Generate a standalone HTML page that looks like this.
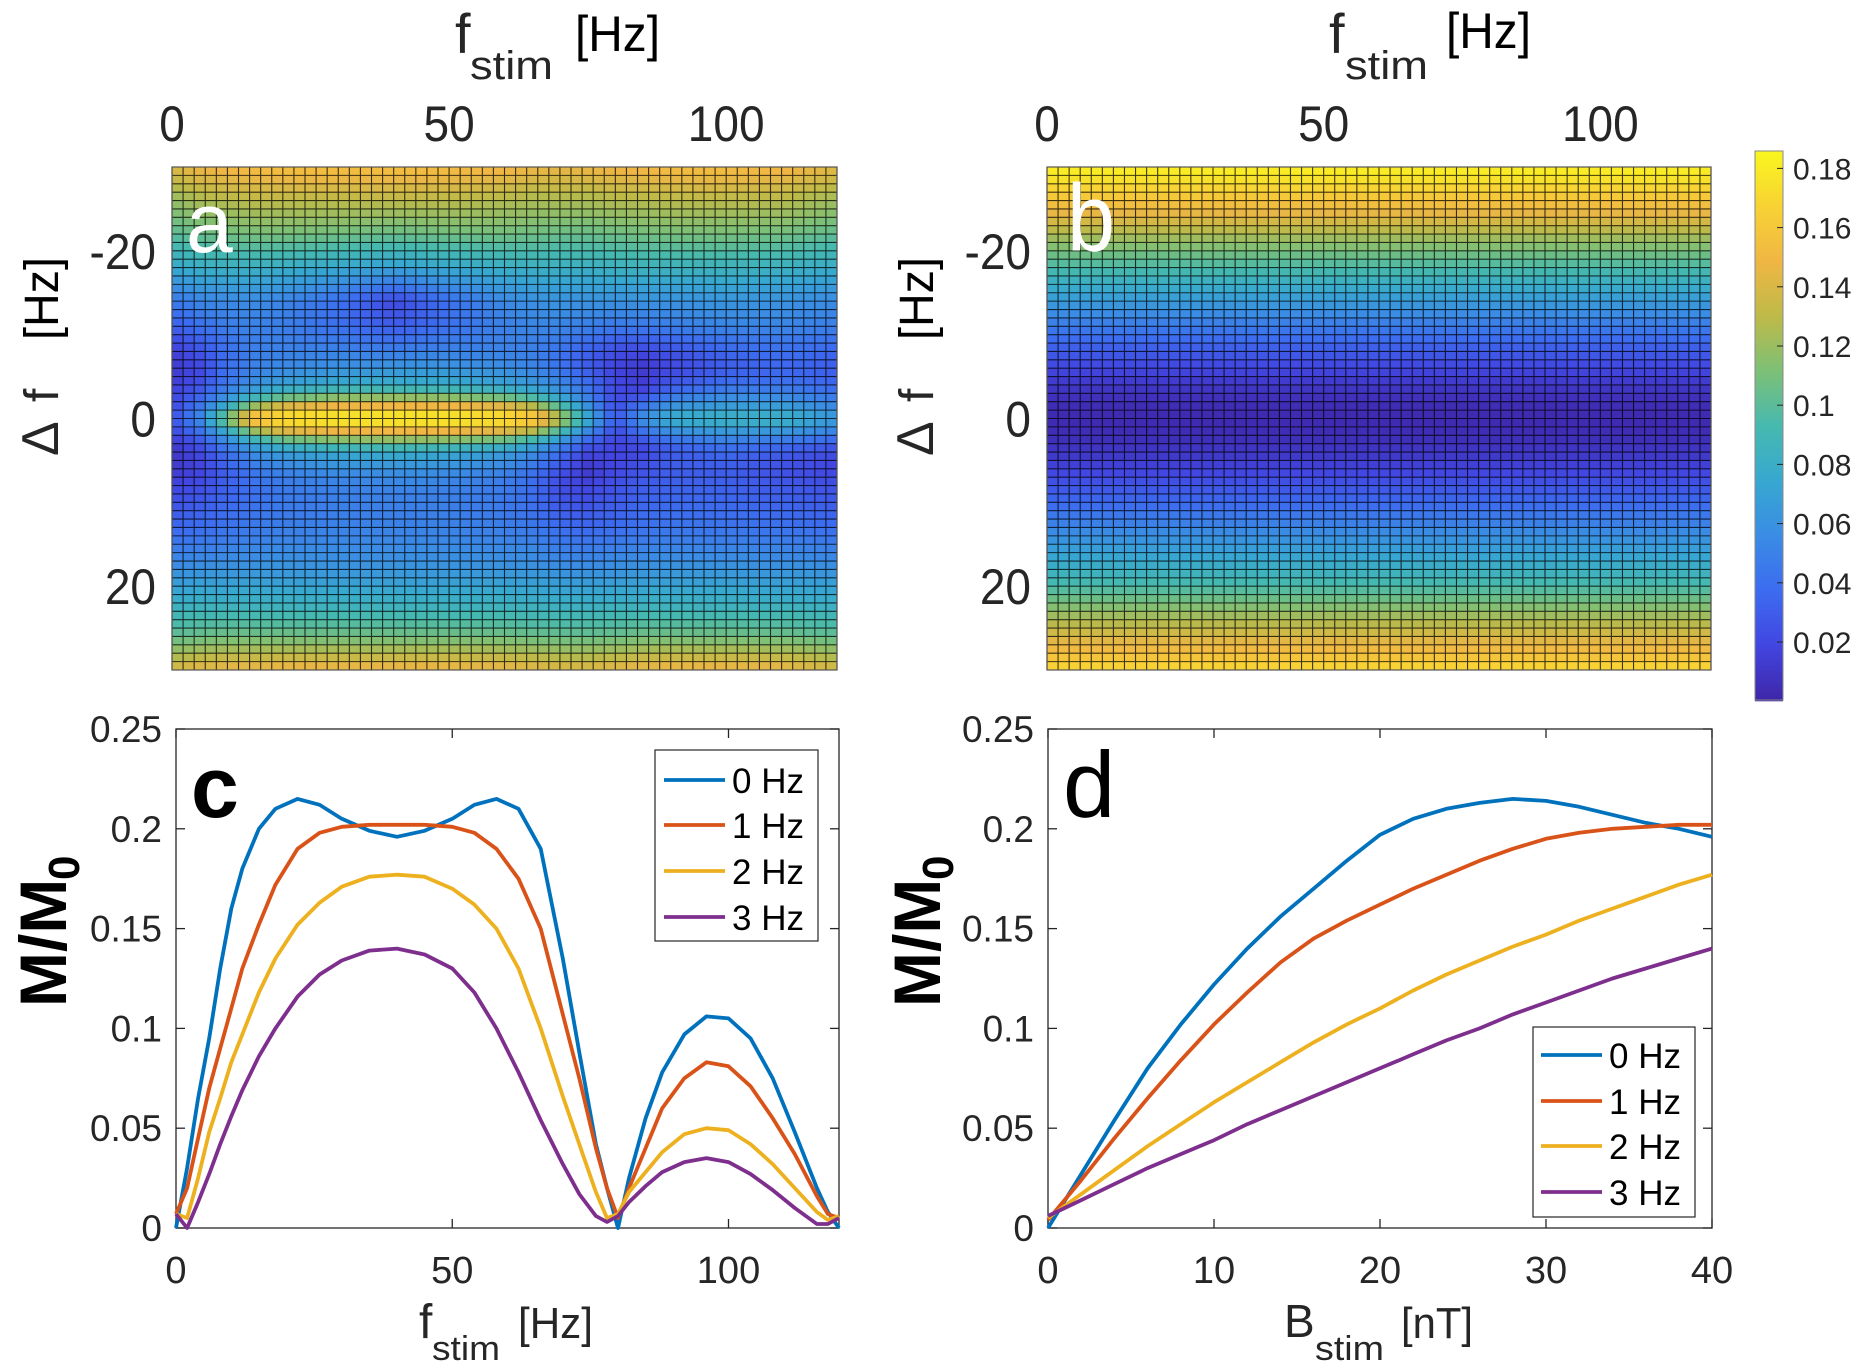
<!DOCTYPE html>
<html><head><meta charset="utf-8"><style>
html,body{margin:0;padding:0;background:#fff;}
svg{display:block;font-family:"Liberation Sans",sans-serif;}
</style></head><body>
<svg id="fig" width="1868" height="1368" viewBox="0 0 1868 1368" xmlns="http://www.w3.org/2000/svg">
<g id="layerA"></g>
<g id="layerB"></g>
<g id="layerCB"></g>
<g id="layerC"></g>
<g id="layerD"></g>
<g id="layerT"></g>
</svg>
<script>
// ---------- DATA ----------
const fA = [0,5,10,15,20,30,40,50,60,65,70,75,80,85,90,100,110,120];
const dA = [-30,-26,-22,-18,-14,-11,-8,-6,-4,-3,-2,-1,0,1,2,3,4,6,8,11,14,18,22,26,30];
const zA = [
[.140,.148,.152,.155,.156,.156,.156,.155,.152,.148,.146,.148,.150,.152,.155,.155,.152,.143],
[.118,.125,.128,.130,.130,.130,.130,.129,.127,.125,.125,.125,.127,.128,.129,.129,.128,.122],
[.100,.105,.108,.110,.110,.108,.105,.108,.108,.107,.105,.105,.107,.108,.110,.110,.108,.102],
[.075,.080,.082,.082,.080,.075,.070,.075,.080,.082,.082,.082,.083,.085,.085,.085,.083,.078],
[.045,.052,.055,.055,.052,.040,.020,.040,.055,.058,.060,.060,.060,.060,.060,.062,.060,.055],
[.030,.040,.048,.050,.048,.040,.030,.040,.050,.052,.052,.048,.045,.045,.048,.052,.052,.048],
[.015,.025,.040,.048,.050,.050,.048,.050,.050,.048,.042,.032,.022,.020,.025,.035,.040,.035],
[.012,.020,.040,.050,.055,.060,.062,.062,.058,.052,.042,.030,.018,.012,.020,.030,.035,.030],
[.015,.025,.045,.060,.070,.078,.080,.078,.072,.065,.055,.040,.020,.015,.028,.040,.042,.035],
[.018,.030,.055,.075,.090,.100,.102,.100,.092,.082,.065,.045,.020,.022,.040,.052,.052,.042],
[.020,.038,.070,.100,.122,.132,.135,.133,.125,.110,.085,.055,.022,.035,.055,.062,.062,.050],
[.022,.048,.090,.140,.160,.165,.165,.165,.160,.148,.110,.065,.025,.048,.068,.072,.072,.058],
[.025,.055,.120,.170,.180,.183,.183,.183,.180,.170,.130,.080,.030,.060,.080,.085,.085,.065],
[.022,.048,.090,.140,.160,.165,.165,.165,.160,.148,.110,.065,.025,.048,.068,.072,.072,.058],
[.018,.035,.068,.100,.122,.132,.135,.133,.125,.108,.080,.045,.020,.035,.050,.058,.055,.045],
[.012,.025,.052,.075,.090,.100,.102,.100,.090,.078,.055,.030,.018,.022,.035,.045,.040,.030],
[.010,.020,.040,.058,.068,.076,.080,.076,.068,.058,.040,.020,.018,.020,.030,.036,.030,.022],
[.012,.018,.032,.045,.052,.058,.060,.058,.052,.042,.025,.012,.020,.025,.030,.030,.024,.018],
[.018,.022,.032,.040,.045,.050,.052,.050,.046,.038,.022,.018,.025,.030,.032,.032,.028,.024],
[.028,.032,.038,.042,.045,.048,.048,.048,.045,.040,.030,.028,.032,.036,.038,.038,.035,.032],
[.040,.042,.045,.048,.050,.052,.052,.052,.050,.048,.042,.040,.042,.045,.046,.046,.045,.042],
[.058,.060,.061,.062,.062,.062,.062,.062,.062,.061,.058,.058,.060,.061,.062,.062,.061,.060],
[.080,.082,.082,.082,.082,.082,.082,.082,.082,.081,.080,.080,.081,.082,.082,.082,.081,.080],
[.103,.106,.108,.108,.108,.108,.108,.108,.108,.106,.105,.105,.106,.108,.108,.108,.107,.103],
[.140,.145,.148,.148,.150,.150,.150,.150,.148,.145,.142,.142,.145,.148,.150,.150,.148,.140]
];
const dB = [-30,-28,-26,-24,-22,-20,-18,-16,-14,-12,-10,-8,-6,-4,-2,0,2,4,6,8,10,12,14,16,18,20,22,24,26,28,30];
const zB = [.183,.172,.158,.142,.125,.110,.095,.080,.066,.053,.040,.029,.019,.011,.005,.003,.005,.010,.017,.026,.036,.047,.058,.070,.082,.095,.110,.125,.140,.155,.170];
const heatXTicks = [0,50,100];
const heatYTicks = [-20,0,20];
const cbTicks = [0.02,0.04,0.06,0.08,0.1,0.12,0.14,0.16,0.18];
const cbTickLabels = ["0.02","0.04","0.06","0.08","0.1","0.12","0.14","0.16","0.18"];

const seriesNames = ["0 Hz","1 Hz","2 Hz","3 Hz"];
const fC = [0,2,4,6,8,10,12,15,18,22,26,30,35,40,45,50,54,58,62,66,70,73,76,78,80,82,85,88,92,96,100,104,108,112,116,118,120];
const c0 = [0,.03,.065,.095,.13,.16,.18,.2,.21,.215,.212,.205,.199,.196,.199,.205,.212,.215,.21,.19,.135,.088,.042,.02,0,.025,.055,.078,.097,.106,.105,.095,.075,.048,.02,.008,0];
const c1 = [.007,.02,.045,.07,.09,.11,.13,.152,.172,.19,.198,.201,.202,.202,.202,.201,.198,.19,.175,.15,.107,.075,.04,.02,.005,.02,.04,.06,.075,.083,.081,.071,.055,.037,.016,.007,.005];
const c2 = [.007,.005,.025,.048,.065,.083,.097,.118,.135,.152,.163,.171,.176,.177,.176,.17,.162,.15,.13,.1,.066,.042,.018,.005,.007,.018,.028,.038,.047,.05,.049,.042,.032,.02,.008,.004,.006];
const c3 = [.007,0,.013,.027,.042,.056,.069,.086,.1,.116,.127,.134,.139,.14,.137,.13,.118,.1,.078,.054,.032,.017,.006,.003,.006,.013,.021,.028,.033,.035,.033,.027,.019,.01,.002,.002,.005];
const cXTicks = [0,50,100];
const bD = [0,2,4,6,8,10,12,14,16,18,20,22,24,26,28,30,32,34,36,38,40];
const d0 = [0,.027,.054,.08,.102,.122,.14,.156,.17,.184,.197,.205,.21,.213,.215,.214,.211,.207,.203,.2,.196];
const d1 = [.004,.024,.045,.065,.084,.102,.118,.133,.145,.154,.162,.17,.177,.184,.19,.195,.198,.2,.201,.202,.202];
const d2 = [.005,.017,.029,.041,.052,.063,.073,.083,.093,.102,.11,.119,.127,.134,.141,.147,.154,.16,.166,.172,.177];
const d3 = [.006,.014,.022,.03,.037,.044,.052,.059,.066,.073,.08,.087,.094,.1,.107,.113,.119,.125,.13,.135,.14];
const dXTicks = [0,10,20,30,40];
const yTicks = [0,0.05,0.1,0.15,0.2,0.25];
const yTickLabels = ["0","0.05","0.1","0.15","0.2","0.25"];

// ---------- helpers ----------
const NS="http://www.w3.org/2000/svg";
function mk(tag, parent, attrs){const e=document.createElementNS(NS,tag);for(const k in attrs)e.setAttribute(k,attrs[k]);parent.appendChild(e);return e;}
const stops=[[0,62,38,168],[.1,66,70,225],[.2,60,108,240],[.3,58,140,228],[.4,55,168,208],[.5,70,185,175],[.6,125,192,118],[.7,190,186,72],[.8,240,182,68],[.9,248,210,52],[1,249,246,30]];
const CMIN=0.0004, CMAX=0.1857;
function cmap(v){let t=(v-CMIN)/(CMAX-CMIN);t=Math.max(0,Math.min(1,t));
 for(let i=1;i<stops.length;i++){if(t<=stops[i][0]){const a=stops[i-1],b=stops[i],u=(t-a[0])/(b[0]-a[0]);
  return `rgb(${Math.round(a[1]+u*(b[1]-a[1]))},${Math.round(a[2]+u*(b[2]-a[2]))},${Math.round(a[3]+u*(b[3]-a[3]))})`;}}
 return "rgb(249,246,30)";}
function locate(arr,v){let i=0;while(i<arr.length-2&&v>arr[i+1])i++;const u=Math.max(0,Math.min(1,(v-arr[i])/(arr[i+1]-arr[i])));return [i,u];}
function sampleA(f,d){const [i,u]=locate(fA,f),[j,w]=locate(dA,d);
 const a=zA[j][i],b=zA[j][i+1],c=zA[j+1][i],e=zA[j+1][i+1];return (a*(1-u)+b*u)*(1-w)+(c*(1-u)+e*u)*w;}
function sampleB(d){const [j,w]=locate(dB,d);return zB[j]*(1-w)+zB[j+1]*w;}

// ---------- heatmaps ----------
const HT=167, HB=670;
function heat(layer,L,R,sampler,nm){
 const xS=f=>L+f/120*(R-L), yS=d=>HT+(d+30)/60*(HB-HT);
 for(let j=0;j<60;j++)for(let i=0;i<60;i++){
  const f=(i+0.5)*2, d=-30+(j+0.5);
  const r=mk('rect',layer,{x:xS(i*2),y:yS(-30+j),width:xS(2)-xS(0)+0.4,height:yS(-29)-yS(-30)+0.4,fill:cmap(sampler(f,d))});
  
  
 }
 let p="";for(let i=0;i<=60;i++){const x=xS(i*2);p+=`M${x} ${HT}V${HB}`;}
 for(let j=0;j<=60;j++){const y=yS(-30+j);p+=`M${L} ${y}H${R}`;}
 const g=mk('path',layer,{d:p,stroke:"#000",'stroke-opacity':"0.75",'stroke-width':"1.1",fill:"none"});
 
 
 const bx=mk('rect',layer,{x:L,y:HT,width:R-L,height:HB-HT,fill:"none",stroke:"#555",'stroke-width':"1.2"});
 
 
 heatXTicks.forEach(t=>{const e=mk('text',layer,{x:0,y:0,transform:`translate(${xS(t)},141) scale(0.92,1)`,'text-anchor':"middle",'font-size':"50",fill:"#262626"});e.textContent=t;
  
  });
 heatYTicks.forEach(t=>{const e=mk('text',layer,{x:0,y:0,transform:`translate(${L-16},${yS(t)+18}) scale(0.92,1)`,'text-anchor':"end",'font-size':"50",fill:"#262626"});e.textContent=t;
  
  });
}
heat(document.getElementById('layerA'),172,837,(f,d)=>sampleA(f,d),'heatmap-a');
heat(document.getElementById('layerB'),1047,1711,(f,d)=>sampleB(d),'heatmap-b');

// ---------- colorbar ----------
(function(){const g=document.getElementById('layerCB');const L=1755,R=1783,T=151,B=700;
 const yV=v=>642-(v-0.02)/0.02*59.2;
 for(let y=T;y<B;y+=2){const v=0.02+(642-y-1)/59.2*0.02;const r=mk('rect',g,{x:L,y:y,width:R-L,height:2.3,fill:cmap(v)});
  
  }
 const f=mk('rect',g,{x:L,y:T,width:R-L,height:B-T,fill:"none",stroke:"#888",'stroke-width':"1"});
 
 
 cbTicks.forEach((t,k)=>{const y=yV(t);mk('line',g,{x1:R-6,x2:R,y1:y,y2:y,stroke:"#262626",'stroke-width':"1"});
  const e=mk('text',g,{x:1793,y:y+11,'font-size':"30",fill:"#262626"});e.textContent=cbTickLabels[k];
  
  });
})();

// ---------- line charts ----------
const PT=729, PB=1228;
const colors=["#0072BD","#D95319","#EDB120","#7E2F8E"];
function lineChart(layer,L,R,xmax,xs,series,xticks,leg,nm){
 const xS=x=>L+x/xmax*(R-L), yS=v=>PB-v/0.25*(PB-PT);
 const bx=mk('rect',layer,{x:L,y:PT,width:R-L,height:PB-PT,fill:"#fff",stroke:"#262626",'stroke-width':"1.3"});
 
 
 yTicks.forEach((t,k)=>{const y=yS(t);
  mk('line',layer,{x1:L,x2:L+9,y1:y,y2:y,stroke:"#262626",'stroke-width':"1.3"});
  mk('line',layer,{x1:R-9,x2:R,y1:y,y2:y,stroke:"#262626",'stroke-width':"1.3"});
  const e=mk('text',layer,{x:L-14,y:y+13,'text-anchor':"end",'font-size':"37",fill:"#262626"});e.textContent=yTickLabels[k];
  
  });
 xticks.forEach(t=>{const x=xS(t);
  mk('line',layer,{x1:x,x2:x,y1:PB,y2:PB-9,stroke:"#262626",'stroke-width':"1.3"});
  mk('line',layer,{x1:x,x2:x,y1:PT,y2:PT+9,stroke:"#262626",'stroke-width':"1.3"});
  const e=mk('text',layer,{x:x,y:1283,'text-anchor':"middle",'font-size':"38",fill:"#262626"});e.textContent=t;
  
  });
 series.forEach((s,k)=>{const d=s.map((v,i)=>(i?"L":"M")+xS(xs[i]).toFixed(1)+" "+yS(v).toFixed(1)).join("");
  const p=mk('path',layer,{d:d,fill:"none",stroke:colors[k],'stroke-width':"3.8",'stroke-linejoin':"round"});
  
  });
 const lg=mk('g',layer,{});
 
 
 mk('rect',lg,{x:leg.x,y:leg.y,width:leg.w,height:leg.h,fill:"#fff",stroke:"#262626",'stroke-width':"1.2"});
 seriesNames.forEach((n,k)=>{const y=leg.ys[k];
  mk('line',lg,{x1:leg.lx,x2:leg.lx+61,y1:y,y2:y,stroke:colors[k],'stroke-width':"3.8"});
  const e=mk('text',lg,{x:leg.lx+68,y:y+13,'font-size':"35",fill:"#000"});e.textContent=n;
  
  });
}
lineChart(document.getElementById('layerC'),176,839,120,fC,[c0,c1,c2,c3],cXTicks,{x:655,y:750,w:163,h:191,lx:664,ys:[780,825,871,917]},'chart-c');
lineChart(document.getElementById('layerD'),1048,1712,40,bD,[d0,d1,d2,d3],dXTicks,{x:1533,y:1027,w:162,h:190,lx:1541,ys:[1055,1101,1146,1192]},'chart-d');
</script>
<script>
const T=document.getElementById('layerT');
T.innerHTML=`
<g fill="#262626">
 <text x="455" y="53" font-size="56">f</text><text x="470" y="79" font-size="40" textLength="83" lengthAdjust="spacingAndGlyphs">stim</text>
 <text x="575" y="51" font-size="50" textLength="85" lengthAdjust="spacingAndGlyphs" fill="#000">[Hz]</text></g>
<g fill="#262626">
 <text x="1329" y="53" font-size="56">f</text><text x="1345" y="79" font-size="40" textLength="83" lengthAdjust="spacingAndGlyphs">stim</text>
 <text x="1446" y="48" font-size="50" textLength="85" lengthAdjust="spacingAndGlyphs" fill="#000">[Hz]</text></g>
<g transform="rotate(-90)" fill="#262626">
 <text x="-456" y="58" font-size="52">Δ</text><text x="-402" y="58" font-size="48">f</text>
 <text x="-340" y="58" font-size="48" textLength="83" lengthAdjust="spacingAndGlyphs" fill="#000">[Hz]</text></g>
<g transform="rotate(-90)" fill="#262626">
 <text x="-456" y="933" font-size="52">Δ</text><text x="-402" y="933" font-size="48">f</text>
 <text x="-340" y="933" font-size="48" textLength="83" lengthAdjust="spacingAndGlyphs" fill="#000">[Hz]</text></g>
<text x="186" y="252" font-size="84" fill="#fff">a</text>
<text x="1067" y="251" font-size="96" fill="#fff" textLength="48" lengthAdjust="spacingAndGlyphs">b</text>
<text x="191" y="817" font-size="86" font-weight="bold" fill="#000">c</text>
<text x="1063" y="817" font-size="94" fill="#000">d</text>
<g transform="rotate(-90)" fill="#000">
 <text x="-1007" y="66" font-size="66" font-weight="bold">M/M</text><text x="-880" y="79" font-size="44" font-weight="bold">0</text></g>
<g transform="rotate(-90)" fill="#000">
 <text x="-1007" y="940" font-size="66" font-weight="bold">M/M</text><text x="-880" y="953" font-size="44" font-weight="bold">0</text></g>
<g fill="#262626">
 <text x="419" y="1338" font-size="48">f</text><text x="432" y="1360" font-size="34" textLength="68" lengthAdjust="spacingAndGlyphs">stim</text>
 <text x="518" y="1338" font-size="44" textLength="75" lengthAdjust="spacingAndGlyphs">[Hz]</text></g>
<g fill="#262626">
 <text x="1284" y="1337" font-size="46">B</text><text x="1315" y="1360" font-size="34" textLength="69" lengthAdjust="spacingAndGlyphs">stim</text>
 <text x="1401" y="1338" font-size="44" textLength="72" lengthAdjust="spacingAndGlyphs">[nT]</text></g>`;
</script>
</body></html>
